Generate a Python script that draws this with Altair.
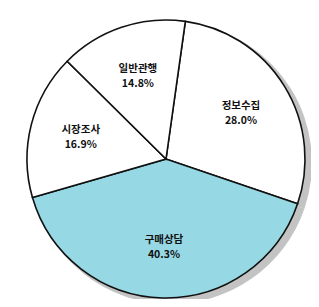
import altair as alt
import pandas as pd
import math

categories = ["정보수집", "구매상담", "시장조사", "일반관행"]
values = [28.0, 40.3, 16.9, 14.8]
colors = ["#ffffff", "#96d8e3", "#ffffff", "#ffffff"]

df = pd.DataFrame({
    "cat": categories,
    "val": values,
    "order": list(range(len(categories))),
    "pct": [f"{v:.1f}%" for v in values],
})

start = math.radians(8)
theta_scale = alt.Scale(range=[start, start + 2 * math.pi])

base = alt.Chart(df).encode(
    theta=alt.Theta("val:Q", stack=True, scale=theta_scale),
    order=alt.Order("order:Q"),
)

shadow = base.mark_arc(outerRadius=141, color="#b8b8b8", opacity=0.85).encode(
    x=alt.value(163), y=alt.value(155)
)

pie = base.mark_arc(outerRadius=139, stroke="#111111", strokeWidth=1.6).encode(
    x=alt.value(158), y=alt.value(151),
    color=alt.Color("cat:N", scale=alt.Scale(domain=categories, range=colors), legend=None),
)

name = base.mark_text(
    radius=88, font="Noto Sans CJK KR", fontSize=10.5, fontWeight="bold",
    color="#111111", dy=-7,
).encode(x=alt.value(158), y=alt.value(151), text="cat:N")

pct = base.mark_text(
    radius=88, font="Noto Sans CJK KR", fontSize=10.5, fontWeight="bold",
    color="#111111", dy=8,
).encode(x=alt.value(158), y=alt.value(151), text="pct:N")

chart = alt.layer(shadow, pie, name, pct).properties(
    width=303, height=291, padding=0, autosize=alt.AutoSizeParams(type="none"),
).configure_view(stroke=None)

chart.save("out.html", embed_options={"renderer": "svg", "actions": False})
